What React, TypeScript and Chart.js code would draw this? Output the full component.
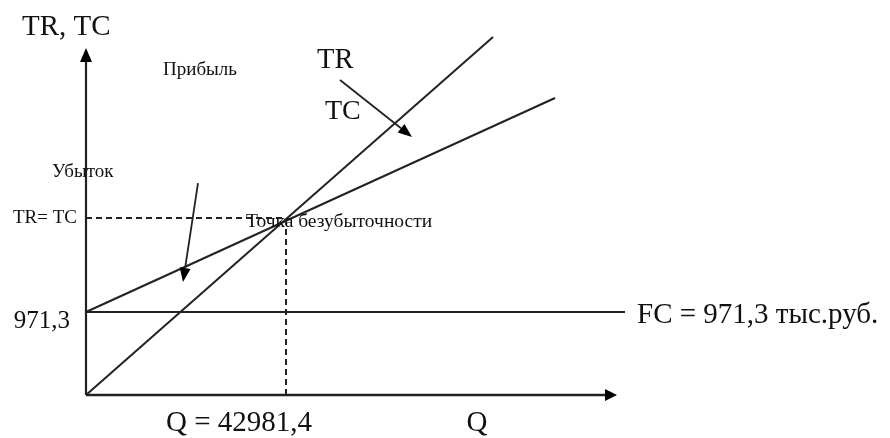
import { useEffect, useRef } from "react";
import { Chart, registerables } from "chart.js";

Chart.register(...registerables);

// ---- data (value units: Q on x, thousand rubles on y) ----
const Q_BREAK_EVEN = 42981.4;
const FIXED_COST = 971.3;
const BREAK_EVEN_VALUE = 2071;
const X_MAX = 115830;
const Y_MAX = 4060;
const X_AXIS_END = 114110;

const trLine = [
  { x: 0, y: 0 },
  { x: 87470, y: 4189 },
];
const tcLine = [
  { x: 0, y: FIXED_COST },
  { x: 100790, y: 3475 },
];
const fcLine = [
  { x: 0, y: FIXED_COST },
  { x: X_MAX, y: FIXED_COST },
];
const dashVertical = [
  { x: Q_BREAK_EVEN, y: 0 },
  { x: Q_BREAK_EVEN, y: BREAK_EVEN_VALUE },
];
const dashHorizontal = [
  { x: 0, y: BREAK_EVEN_VALUE },
  { x: Q_BREAK_EVEN, y: BREAK_EVEN_VALUE },
];

// pointer arrows (start -> tip), in value units
const pointerFrom = [
  { x: 54585, y: 3686 },
  { x: 24069, y: 2480 },
];
const pointerTo = [
  { x: 70057, y: 3019 },
  { x: 20845, y: 1322 },
];

// annotation texts and their anchors in value units
const labelTexts = [
  "TR, TC",
  "Прибыль",
  "Убыток",
  "TR= TC",
  "971,3",
  "Точка безубыточности",
  "Q = 42981,4",
  "Q",
  "FC = 971,3 тыс.руб.",
  "TR",
  "TC",
];
const labelAnchors = [
  { x: -13754, y: 4306 },
  { x: 16547, y: 3803 },
  { x: -7307, y: 2609 },
  { x: -1934, y: BREAK_EVEN_VALUE },
  { x: -3438, y: 866 },
  { x: 34384, y: 2024 },
  { x: 32880, y: -328 },
  { x: 84026, y: -328 },
  { x: 118410, y: 936 },
  { x: 49642, y: 3908 },
  { x: 51361, y: 3311 },
];

// ---- styles ----
const INK = "#222";
const FONT = "'Liberation Serif', 'Times New Roman', serif";
const labelStyles: { size: number; align: CanvasTextAlign }[] = [
  { size: 29, align: "left" },
  { size: 19, align: "left" },
  { size: 19, align: "left" },
  { size: 19, align: "right" },
  { size: 25, align: "right" },
  { size: 19.5, align: "left" },
  { size: 29, align: "center" },
  { size: 29, align: "center" },
  { size: 29, align: "left" },
  { size: 28.5, align: "left" },
  { size: 28, align: "left" },
];

function drawArrow(
  ctx: CanvasRenderingContext2D,
  x1: number,
  y1: number,
  x2: number,
  y2: number,
  width: number,
  head: number,
  half: number
) {
  const ang = Math.atan2(y2 - y1, x2 - x1);
  const bx = x2 - head * Math.cos(ang);
  const by = y2 - head * Math.sin(ang);
  ctx.save();
  ctx.strokeStyle = INK;
  ctx.fillStyle = "#000";
  ctx.lineWidth = width;
  ctx.beginPath();
  ctx.moveTo(x1, y1);
  ctx.lineTo(bx, by);
  ctx.stroke();
  ctx.beginPath();
  ctx.moveTo(x2, y2);
  ctx.lineTo(bx + half * Math.sin(ang), by - half * Math.cos(ang));
  ctx.lineTo(bx - half * Math.sin(ang), by + half * Math.cos(ang));
  ctx.closePath();
  ctx.fill();
  ctx.restore();
}

const annotationPlugin = {
  id: "breakEvenAnnotations",
  afterDatasetsDraw(chart: any) {
    const ctx: CanvasRenderingContext2D = chart.ctx;
    const xs = chart.scales.x;
    const ys = chart.scales.y;
    const px = (v: number) => xs.getPixelForValue(v);
    const py = (v: number) => ys.getPixelForValue(v);

    // axes with arrowheads
    drawArrow(ctx, px(0), py(0), px(0), py(Y_MAX), 2.2, 14, 6);
    drawArrow(ctx, px(0), py(0), px(X_AXIS_END), py(0), 2.4, 12, 6);

    // pointer arrows
    for (let i = 0; i < pointerFrom.length; i++) {
      drawArrow(
        ctx,
        px(pointerFrom[i].x),
        py(pointerFrom[i].y),
        px(pointerTo[i].x),
        py(pointerTo[i].y),
        1.8,
        14,
        5.5
      );
    }

    // texts
    ctx.save();
    ctx.fillStyle = "#111";
    ctx.textBaseline = "middle";
    for (let i = 0; i < labelTexts.length; i++) {
      const st = labelStyles[i];
      ctx.font = `${st.size}px ${FONT}`;
      ctx.textAlign = st.align;
      ctx.fillText(labelTexts[i], px(labelAnchors[i].x), py(labelAnchors[i].y));
    }
    ctx.restore();
  },
};

export default function App() {
  const ref = useRef<HTMLCanvasElement | null>(null);

  useEffect(() => {
    if (!ref.current) return;
    const solid = { borderColor: INK, borderWidth: 2, pointRadius: 0, showLine: true, fill: false, tension: 0 };
    const dashed = { ...solid, borderDash: [6, 4] };
    const chart = new Chart(ref.current, {
      type: "scatter",
      data: {
        datasets: [
          { label: "TR", data: trLine, ...solid },
          { label: "TC", data: tcLine, ...solid },
          { label: "FC", data: fcLine, ...solid },
          { label: "Q*", data: dashVertical, ...dashed },
          { label: "TR=TC", data: dashHorizontal, ...dashed },
        ] as any,
      },
      options: {
        animation: false,
        responsive: false,
        clip: false as any,
        layout: { padding: { left: 86, right: 265, top: 48, bottom: 43 } },
        plugins: { legend: { display: false }, tooltip: { enabled: false } },
        scales: {
          x: { type: "linear", min: 0, max: X_MAX, display: false },
          y: { type: "linear", min: 0, max: Y_MAX, display: false },
        },
      },
      plugins: [annotationPlugin],
    });
    return () => chart.destroy();
  }, []);

  return (
    <div style={{ position: "absolute", left: 0, top: 0, width: 890, height: 438, background: "#fff" }}>
      <canvas ref={ref} width={890} height={438} style={{ display: "block" }} />
    </div>
  );
}
